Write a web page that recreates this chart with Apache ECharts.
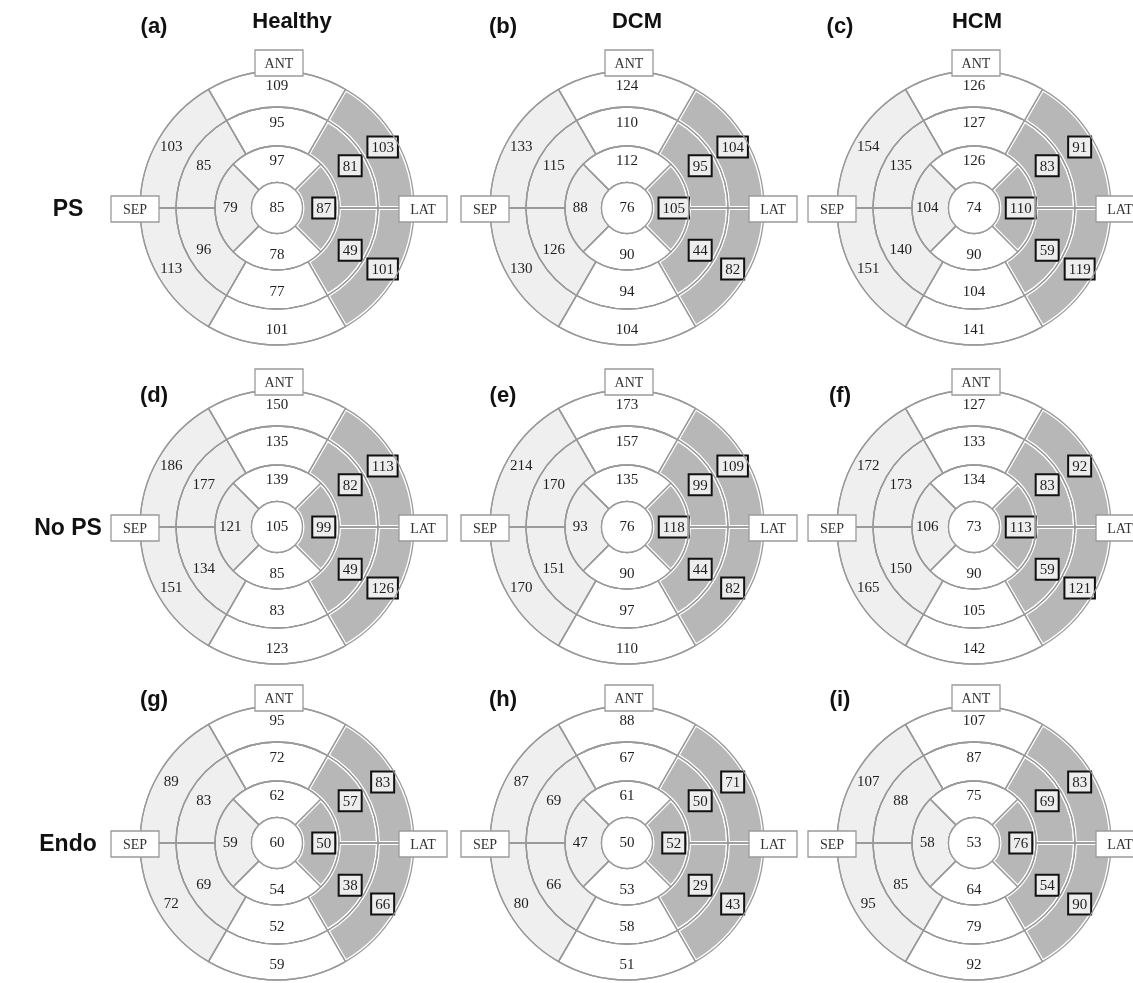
<!DOCTYPE html>
<html>
<head>
<meta charset="utf-8">
<title>Bull's eye plots</title>
<script src="https://cdn.jsdelivr.net/npm/echarts@6/dist/echarts.min.js"></script>
<style>
  html, body { margin: 0; padding: 0; background: #fff; }
  #chart { width: 1133px; height: 983px; }
</style>
</head>
<body>
<div id="chart"></div>
<script>
// headings
const columnTitles = ['Healthy', 'DCM', 'HCM'];
const rowTitles = ['PS', 'No PS', 'Endo'];
const panelTags = ['(a)', '(b)', '(c)', '(d)', '(e)', '(f)', '(g)', '(h)', '(i)'];
const directionTags = ['ANT', 'SEP', 'LAT'];

// segment kinds, counter-clockwise from the top
// 6-ring: anterior, upper septal, lower septal, inferior, lower lateral, upper lateral
const kinds6 = ['plain', 'sep', 'sep', 'plain', 'lat', 'lat'];
// 4-ring: anterior, septal, inferior, lateral
const kinds4 = ['plain', 'sep', 'plain', 'lat'];

// panels a..i (row by row)
const basal = [
  [109, 103, 113, 101, 101, 103],
  [124, 133, 130, 104, 82, 104],
  [126, 154, 151, 141, 119, 91],
  [150, 186, 151, 123, 126, 113],
  [173, 214, 170, 110, 82, 109],
  [127, 172, 165, 142, 121, 92],
  [95, 89, 72, 59, 66, 83],
  [88, 87, 80, 51, 43, 71],
  [107, 107, 95, 92, 90, 83]
];
const mid = [
  [95, 85, 96, 77, 49, 81],
  [110, 115, 126, 94, 44, 95],
  [127, 135, 140, 104, 59, 83],
  [135, 177, 134, 83, 49, 82],
  [157, 170, 151, 97, 44, 99],
  [133, 173, 150, 105, 59, 83],
  [72, 83, 69, 52, 38, 57],
  [67, 69, 66, 58, 29, 50],
  [87, 88, 85, 79, 54, 69]
];
const apical = [
  [97, 79, 78, 87],
  [112, 88, 90, 105],
  [126, 104, 90, 110],
  [139, 121, 85, 99],
  [135, 93, 90, 118],
  [134, 106, 90, 113],
  [62, 59, 54, 50],
  [61, 47, 53, 52],
  [75, 58, 64, 76]
];
const apex = [85, 76, 74, 105, 76, 73, 60, 50, 53];

// layout
const colX = [277, 627, 974];
const rowY = [208, 527, 843];
const R = { apex: 25.5, apical: 62, mid: 101, basal: 137 };
const fills = { plain: '#ffffff', sep: '#efefef', lat: '#b7b7b7' };
const edge = '#9a9a9a';
const numFont = 'Liberation Serif';
const numColor = '#1e1e1e';

const labelOpt = {
  show: true,
  position: 'inside',
  formatter: p => (p.data.lat ? '{b|' + p.data.v + '}' : '{n|' + p.data.v + '}'),
  rich: {
    n: { fontFamily: numFont, fontSize: 15, color: numColor },
    b: {
      fontFamily: numFont, fontSize: 15, color: numColor,
      borderColor: '#111', borderWidth: 2, padding: [3, 3, 1, 3],
      backgroundColor: '#ededed'
    }
  }
};

// one ring: a filled layer with labels, plus an outline layer on top
function ring(values, kinds, center, radius, startAngle) {
  const base = {
    type: 'pie', center, radius, startAngle, clockwise: false,
    silent: true, animation: false,
    labelLine: { show: false }, emphasis: { disabled: true }
  };
  const fill = Object.assign({}, base, {
    z: 1,
    label: labelOpt,
    data: values.map((v, i) => ({
      value: 1, v, lat: kinds[i] === 'lat',
      itemStyle: {
        color: fills[kinds[i]],
        borderColor: kinds[i] === 'lat' ? '#ffffff' : edge,
        borderWidth: kinds[i] === 'lat' ? 4 : 1.3
      }
    }))
  });
  const outline = Object.assign({}, base, {
    z: 2,
    label: { show: false },
    data: values.map(() => ({
      value: 1,
      itemStyle: { color: 'rgba(0,0,0,0)', borderColor: edge, borderWidth: 1.3 }
    }))
  });
  return [fill, outline];
}

const series = [];
for (let k = 0; k < 9; k++) {
  const c = [colX[k % 3], rowY[Math.floor(k / 3)]];
  series.push(...ring(apical[k], kinds4, c, [R.apex, R.apical], 45));
  series.push(...ring(mid[k], kinds6, c, [R.apical, R.mid], 60));
  series.push(...ring(basal[k], kinds6, c, [R.mid, R.basal], 60));
  series.push({
    type: 'pie', center: c, radius: [0, R.apex], silent: true, animation: false, z: 3,
    label: { show: true, position: 'center', formatter: String(apex[k]),
      fontFamily: numFont, fontSize: 15, color: numColor },
    labelLine: { show: false }, emphasis: { disabled: true },
    data: [{ value: 1, itemStyle: { color: '#fff', borderColor: edge, borderWidth: 1.3 } }]
  });
}

function text(str, x, y, font, color) {
  return {
    type: 'text', z: 100, silent: true,
    style: { text: str, x, y, font, fill: color || '#111',
      align: 'center', verticalAlign: 'middle' }
  };
}

function tagBox(str, x, y) {
  return {
    type: 'group', z: 90, silent: true,
    children: [
      { type: 'rect', z: 90, shape: { x: x - 24, y: y - 13, width: 48, height: 26 },
        style: { fill: '#fff', stroke: edge, lineWidth: 1.3 } },
      text(str, x, y + 1, '14px "Liberation Serif"', '#333')
    ]
  };
}

const graphic = [];
columnTitles.forEach((t, i) => {
  graphic.push(text(t, [292, 637, 977][i], 22, 'bold 22px "Liberation Sans"'));
});
rowTitles.forEach((t, i) => {
  graphic.push(text(t, 68, rowY[i] + 2, 'bold 23px "Liberation Sans"'));
});
const tagX = [154, 503, 840];
const tagY = [27, 396, 700];
panelTags.forEach((t, k) => {
  graphic.push(text(t, tagX[k % 3], tagY[Math.floor(k / 3)], 'bold 22px "Liberation Sans"'));
});
for (let k = 0; k < 9; k++) {
  const cx = colX[k % 3], cy = rowY[Math.floor(k / 3)];
  graphic.push(tagBox(directionTags[0], cx + 2, cy - 145));
  graphic.push(tagBox(directionTags[1], cx - 142, cy + 1));
  graphic.push(tagBox(directionTags[2], cx + 146, cy + 1));
}

const chart = echarts.init(document.getElementById('chart'), null, { renderer: 'canvas' });
chart.setOption({
  backgroundColor: '#ffffff',
  animation: false,
  series,
  graphic
});
</script>
</body>
</html>
